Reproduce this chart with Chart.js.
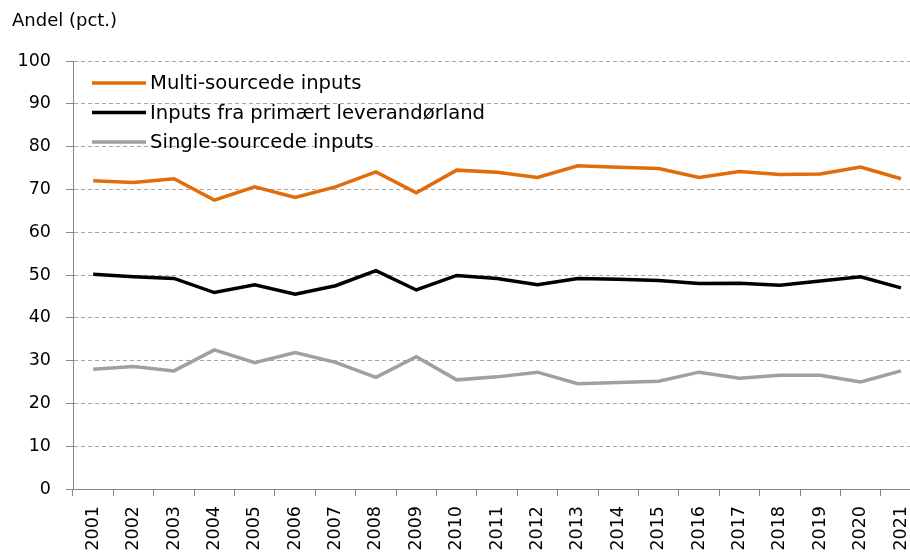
<!DOCTYPE html>
<html>
<head>
<meta charset="utf-8">
<script src="https://cdn.jsdelivr.net/npm/chart.js@4.4.1/dist/chart.umd.min.js"></script>
<style>
  html, body { margin: 0; padding: 0; background: #fff; }
  /* the original plot runs a little past the right edge of the picture */
  #clip { width: 910px; height: 552px; overflow: hidden; }
  #wrap { width: 932px; height: 552px; position: relative; }
</style>
</head>
<body>
<div id="clip"><div id="wrap"><canvas id="chart"></canvas></div></div>
<script>
// data
const years = ['2001', '2002', '2003', '2004', '2005', '2006', '2007', '2008', '2009', '2010', '2011',
  '2012', '2013', '2014', '2015', '2016', '2017', '2018', '2019', '2020', '2021'];
const multiSourced = [72.0, 71.6, 72.5, 67.5, 70.6, 68.1, 70.6, 74.1, 69.2, 74.5, 74.0,
  72.8, 75.5, 75.2, 74.9, 72.8, 74.2, 73.5, 73.6, 75.2, 72.5];
const primaryCountry = [50.2, 49.6, 49.2, 45.9, 47.7, 45.5, 47.5, 51.0, 46.5, 49.9, 49.2,
  47.7, 49.2, 49.0, 48.7, 48.0, 48.1, 47.6, 48.6, 49.6, 47.0];
const singleSourced = [28.0, 28.6, 27.6, 32.5, 29.5, 31.9, 29.6, 26.1, 30.9, 25.5, 26.2,
  27.3, 24.6, 24.9, 25.2, 27.3, 25.9, 26.6, 26.6, 25.0, 27.6];
const seriesNames = ['Multi-sourcede inputs', 'Inputs fra primært leverandørland', 'Single-sourcede inputs'];
const yTitle = 'Andel (pct.)';

const FONT = '"DejaVu Sans", Verdana, sans-serif';

// title top-left above the axis
const titlePlugin = {
  id: 'yTitle',
  afterDraw(chart) {
    const ctx = chart.ctx;
    ctx.save();
    ctx.font = '18px ' + FONT;
    ctx.fillStyle = '#000';
    ctx.textBaseline = 'middle';
    ctx.textAlign = 'left';
    ctx.fillText(yTitle, 12, 21);
    ctx.restore();
  }
};

// legend inside the plot, top left
const innerLegend = {
  id: 'innerLegend',
  afterDraw(chart) {
    const ctx = chart.ctx;
    const area = chart.chartArea;
    ctx.save();
    ctx.font = '19.6px ' + FONT;
    ctx.textBaseline = 'middle';
    chart.data.datasets.forEach((ds, i) => {
      const y = area.top + 22 + i * 29.5;
      const x0 = area.left + 19;
      ctx.strokeStyle = ds.borderColor;
      ctx.lineWidth = ds.borderWidth;
      ctx.beginPath();
      ctx.moveTo(x0, y);
      ctx.lineTo(x0 + 54, y);
      ctx.stroke();
      ctx.fillStyle = '#000';
      ctx.fillText(ds.label, x0 + 58, y + 1);
    });
    ctx.restore();
  }
};

new Chart(document.getElementById('chart'), {
  type: 'line',
  data: {
    labels: years,
    datasets: [
      { label: seriesNames[0], data: multiSourced, borderColor: '#E26B0A', borderWidth: 3.5 },
      { label: seriesNames[1], data: primaryCountry, borderColor: '#000000', borderWidth: 3.5 },
      { label: seriesNames[2], data: singleSourced, borderColor: '#A0A0A0', borderWidth: 3.5 }
    ]
  },
  options: {
    responsive: true,
    maintainAspectRatio: false,
    animation: false,
    layout: { padding: { top: 61, right: 0, left: 0, bottom: 0 } },
    elements: {
      point: { radius: 0 },
      line: { tension: 0, borderCapStyle: 'butt', borderJoinStyle: 'miter' }
    },
    plugins: {
      legend: { display: false },
      tooltip: { enabled: false }
    },
    scales: {
      x: {
        offset: true,
        afterFit(scale) { scale.height = 63; },
        grid: { display: true, drawOnChartArea: false, offset: true, tickLength: 7, color: '#868686' },
        border: { color: '#868686', width: 1 },
        ticks: {
          minRotation: 90, maxRotation: 90, autoSkip: false,
          padding: 10, color: '#000', font: { family: FONT, size: 17.5 }
        }
      },
      y: {
        min: 0, max: 100,
        afterFit(scale) { scale.width = 73; },
        grid: { color: '#A6A6A6', tickLength: 7, tickColor: '#868686', tickBorderDash: [1, 0] },
        border: { color: '#868686', width: 1, dash: [4, 3] },
        ticks: { stepSize: 10, padding: 15, color: '#000', font: { family: FONT, size: 17.5 } }
      }
    }
  },
  plugins: [titlePlugin, innerLegend]
});
</script>
</body>
</html>
